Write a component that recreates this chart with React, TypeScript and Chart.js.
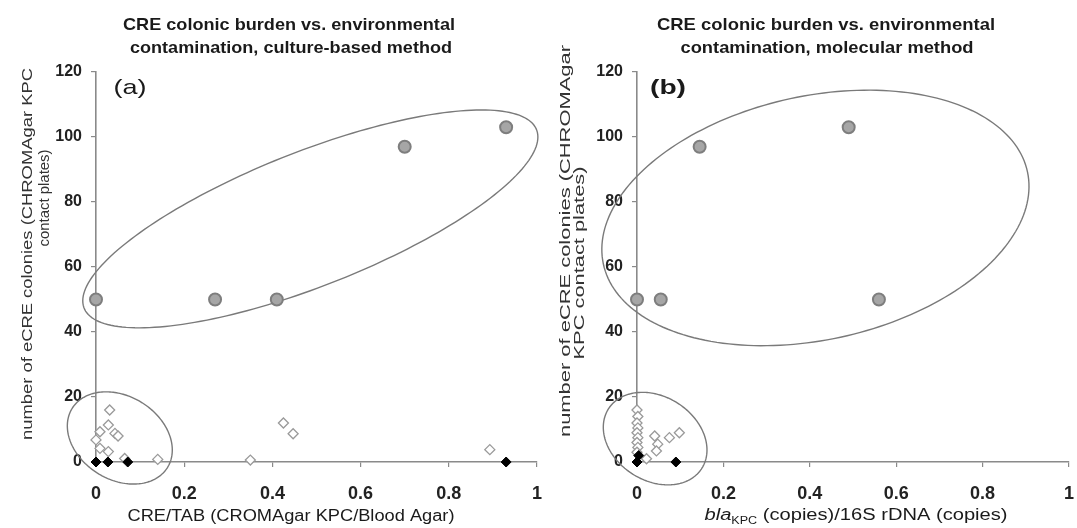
import React, { useEffect, useRef } from "react";
import { Chart, registerables } from "chart.js";

Chart.register(...registerables);

// ---- shared axis ticks ----
const xTickValues = [0, 0.2, 0.4, 0.6, 0.8, 1];
const yTickValues = [0, 20, 40, 60, 80, 100, 120];

// ---- panel (a): culture-based method ----
const aHighX = [0, 0.27, 0.41, 0.7, 0.93];
const aHighY = [50, 50, 50, 97, 103];
const aLowX = [0.031, 0.028, 0.043, 0.05, 0.009, 0, 0.009, 0.028, 0.065, 0.14, 0.35, 0.425, 0.447, 0.893];
const aLowY = [16, 11.4, 8.8, 8, 9.3, 6.8, 4.2, 3.2, 1.1, 0.8, 0.6, 12, 8.7, 3.8];
const aZeroX = [0, 0.027, 0.072, 0.93];
const aZeroY = [0, 0, 0, 0];

// ---- panel (b): molecular method ----
const bHighX = [0, 0.055, 0.145, 0.49, 0.56];
const bHighY = [50, 50, 97, 103, 50];
const bLowX = [0, 0.002, 0, 0.002, 0, 0.002, 0, 0.002, 0, 0.041, 0.075, 0.098, 0.048, 0.045, 0.022];
const bLowY = [16, 14, 12, 10.5, 9, 7.5, 6, 4.5, 3, 8, 7.5, 9, 5.5, 3.4, 1];
const bZeroX = [0, 0.004, 0.09];
const bZeroY = [0, 2, 0];

// ---- grouping ellipses (data units: centre + two conjugate semi-axis vectors) ----
const aEllipses = [
  { cx: 0.486, cy: 74.8, ux: 0.516, uy: 25.2, vx: 0, vy: -22.1 },
  { cx: 0.054, cy: 7.4, ux: 0.119, uy: -3.7, vx: 0, vy: 13.7 },
];
const bEllipses = [
  { cx: 0.413, cy: 75.1, ux: 0.491, uy: 14.1, vx: 0.058, vy: -36.7 },
  { cx: 0.042, cy: 7.2, ux: 0.12, uy: -3.5, vx: 0, vy: 13.8 },
];

const FONT = "'Liberation Sans', Arial, sans-serif";
const NARROW = "'Liberation Sans Narrow', 'Liberation Sans', Arial, sans-serif";
const AXIS_GRAY = "#8a8a8a";
const TEXT = "#1a1a1a";

type Seg = { text: string; font: string; dy?: number };
type TextSpec = { segs: Seg[]; x: number; y: number; w: number; rotate?: boolean; color?: string };

function drawFitted(ctx: CanvasRenderingContext2D, t: TextSpec) {
  ctx.save();
  let total = 0;
  const ws = t.segs.map((s) => {
    ctx.font = s.font;
    const w = ctx.measureText(s.text).width;
    total += w;
    return w;
  });
  ctx.translate(t.x, t.y);
  if (t.rotate) ctx.rotate(-Math.PI / 2);
  ctx.scale(t.w / total, 1);
  ctx.fillStyle = t.color || TEXT;
  ctx.textBaseline = "middle";
  ctx.textAlign = "left";
  let x = -total / 2;
  t.segs.forEach((s, i) => {
    ctx.font = s.font;
    ctx.fillText(s.text, x, s.dy || 0);
    x += ws[i];
  });
  ctx.restore();
}

function zip(xs: number[], ys: number[]) {
  return xs.map((x, i) => ({ x, y: ys[i] }));
}

type PanelCfg = {
  high: { x: number; y: number }[];
  low: { x: number; y: number }[];
  zero: { x: number; y: number }[];
  ellipses: typeof aEllipses;
  texts: TextSpec[];
  yWidth: number;
  rightPad: number;
};

function makeDecor(cfg: PanelCfg) {
  return {
    id: "panelDecor",
    beforeDatasetsDraw(chart: any) {
      const ctx = chart.ctx as CanvasRenderingContext2D;
      const xs = chart.scales.x;
      const ys = chart.scales.y;
      ctx.save();
      ctx.strokeStyle = "#7a7a7a";
      ctx.lineWidth = 1.4;
      cfg.ellipses.forEach((e) => {
        ctx.beginPath();
        const n = 200;
        for (let i = 0; i <= n; i++) {
          const t = (i / n) * Math.PI * 2;
          const dx = e.cx + e.ux * Math.cos(t) + e.vx * Math.sin(t);
          const dy = e.cy + e.uy * Math.cos(t) + e.vy * Math.sin(t);
          const px = xs.getPixelForValue(dx);
          const py = ys.getPixelForValue(dy);
          if (i === 0) ctx.moveTo(px, py);
          else ctx.lineTo(px, py);
        }
        ctx.closePath();
        ctx.stroke();
      });
      ctx.restore();
    },
    afterDraw(chart: any) {
      const ctx = chart.ctx as CanvasRenderingContext2D;
      cfg.texts.forEach((t) => drawFitted(ctx, t));
    },
  };
}

function buildChart(canvas: HTMLCanvasElement, cfg: PanelCfg) {
  return new Chart(canvas, {
    type: "scatter",
    data: {
      datasets: [
        {
          data: cfg.zero,
          pointStyle: "rectRot",
          pointRadius: 5,
          backgroundColor: "#000",
          borderColor: "#000",
          borderWidth: 1,
          order: 0,
          clip: false,
        },
        {
          data: cfg.low,
          pointStyle: "rectRot",
          pointRadius: 5,
          backgroundColor: "#fff",
          borderColor: "#9a9a9a",
          borderWidth: 1.3,
          order: 1,
          clip: false,
        },
        {
          data: cfg.high,
          pointStyle: "circle",
          pointRadius: 6,
          backgroundColor: "#a6a6a6",
          borderColor: "#7e7e7e",
          borderWidth: 2,
          order: 2,
          clip: false,
        },
      ] as any,
    },
    options: {
      responsive: false,
      animation: false,
      devicePixelRatio: 1,
      events: [],
      layout: { padding: { top: 72, left: 0, right: cfg.rightPad, bottom: 0 } },
      plugins: { legend: { display: false }, tooltip: { enabled: false }, title: { display: false } },
      scales: {
        x: {
          type: "linear",
          min: 0,
          max: 1,
          afterBuildTicks: (s: any) => {
            s.ticks = xTickValues.map((v) => ({ value: v }));
          },
          afterFit: (s: any) => {
            s.height = 66;
            s.paddingLeft = 0;
            s.paddingRight = 0;
          },
          ticks: {
            font: { family: FONT, size: 18, weight: "bold" },
            color: "#222",
            padding: 16,
            maxRotation: 0,
            autoSkip: false,
            callback: (v: any) => String(Number(Number(v).toFixed(2))),
          },
          grid: { display: true, drawOnChartArea: false, drawTicks: true, tickLength: 5, color: AXIS_GRAY, lineWidth: 1.2 },
          border: { display: true, color: AXIS_GRAY, width: 1.6 },
        },
        y: {
          type: "linear",
          min: 0,
          max: 120,
          afterBuildTicks: (s: any) => {
            s.ticks = yTickValues.map((v) => ({ value: v }));
          },
          afterFit: (s: any) => {
            s.width = cfg.yWidth;
          },
          ticks: {
            font: { family: FONT, size: 16, weight: "bold" },
            color: "#222",
            padding: 9,
            autoSkip: false,
            callback: (v: any) => String(Number(v)),
          },
          grid: { display: true, drawOnChartArea: false, drawTicks: true, tickLength: 5, color: AXIS_GRAY, lineWidth: 1.2 },
          border: { display: true, color: AXIS_GRAY, width: 1.6 },
        },
      },
    } as any,
    plugins: [makeDecor(cfg)],
  });
}

const titleFont = `bold 17px ${NARROW}`;
const bodyFont = `16px ${FONT}`;
const yTitleFont = `15px ${FONT}`;

const panelA: PanelCfg = {
  high: zip(aHighX, aHighY),
  low: zip(aLowX, aLowY),
  zero: zip(aZeroX, aZeroY),
  ellipses: aEllipses,
  yWidth: 96,
  rightPad: 5,
  texts: [
    { segs: [{ text: "CRE colonic burden vs. environmental", font: titleFont }], x: 289, y: 25, w: 332 },
    { segs: [{ text: "contamination, culture-based method", font: titleFont }], x: 291, y: 48, w: 322 },
    { segs: [{ text: "(a)", font: `21px ${FONT}` }], x: 130, y: 88, w: 33 },
    { segs: [{ text: "number of eCRE colonies (CHROMAgar KPC", font: yTitleFont }], x: 28, y: 254, w: 372, rotate: true, color: "#333" },
    { segs: [{ text: "contact plates)", font: yTitleFont }], x: 45, y: 198, w: 97, rotate: true, color: "#333" },
    { segs: [{ text: "CRE/TAB (CROMAgar KPC/Blood Agar)", font: bodyFont }], x: 291, y: 517, w: 327 },
  ],
};

const panelB: PanelCfg = {
  high: zip(bHighX, bHighY),
  low: zip(bLowX, bLowY),
  zero: zip(bZeroX, bZeroY),
  ellipses: bEllipses,
  yWidth: 92,
  rightPad: 2,
  texts: [
    { segs: [{ text: "CRE colonic burden vs. environmental", font: titleFont }], x: 281, y: 25, w: 338 },
    { segs: [{ text: "contamination, molecular method", font: titleFont }], x: 282, y: 48, w: 293 },
    { segs: [{ text: "(b)", font: `bold 21px ${FONT}` }], x: 123, y: 88, w: 36 },
    { segs: [{ text: "number of eCRE colonies (CHROMAgar", font: yTitleFont }], x: 21, y: 241, w: 392, rotate: true, color: "#333" },
    { segs: [{ text: "KPC contact plates)", font: yTitleFont }], x: 35, y: 263, w: 193, rotate: true, color: "#333" },
    {
      segs: [
        { text: "bla", font: `italic 16px ${FONT}` },
        { text: "KPC", font: `10px ${FONT}`, dy: 5 },
        { text: " (copies)/16S rDNA (copies)", font: bodyFont },
      ],
      x: 311,
      y: 516,
      w: 303,
    },
  ],
};

function PanelCanvas({ left, width, cfg }: { left: number; width: number; cfg: PanelCfg }) {
  const ref = useRef<HTMLCanvasElement | null>(null);
  useEffect(() => {
    if (!ref.current) return;
    const chart = buildChart(ref.current, cfg);
    return () => chart.destroy();
  }, [cfg]);
  return (
    <canvas
      ref={ref}
      width={width}
      height={528}
      style={{ position: "absolute", left, top: 0, width, height: 528 }}
    />
  );
}

export default function App() {
  return (
    <div style={{ position: "absolute", left: 0, top: 0, width: 1077, height: 528, background: "#fff", overflow: "hidden" }}>
      <PanelCanvas left={0} width={545} cfg={panelA} />
      <PanelCanvas left={545} width={532} cfg={panelB} />
    </div>
  );
}
